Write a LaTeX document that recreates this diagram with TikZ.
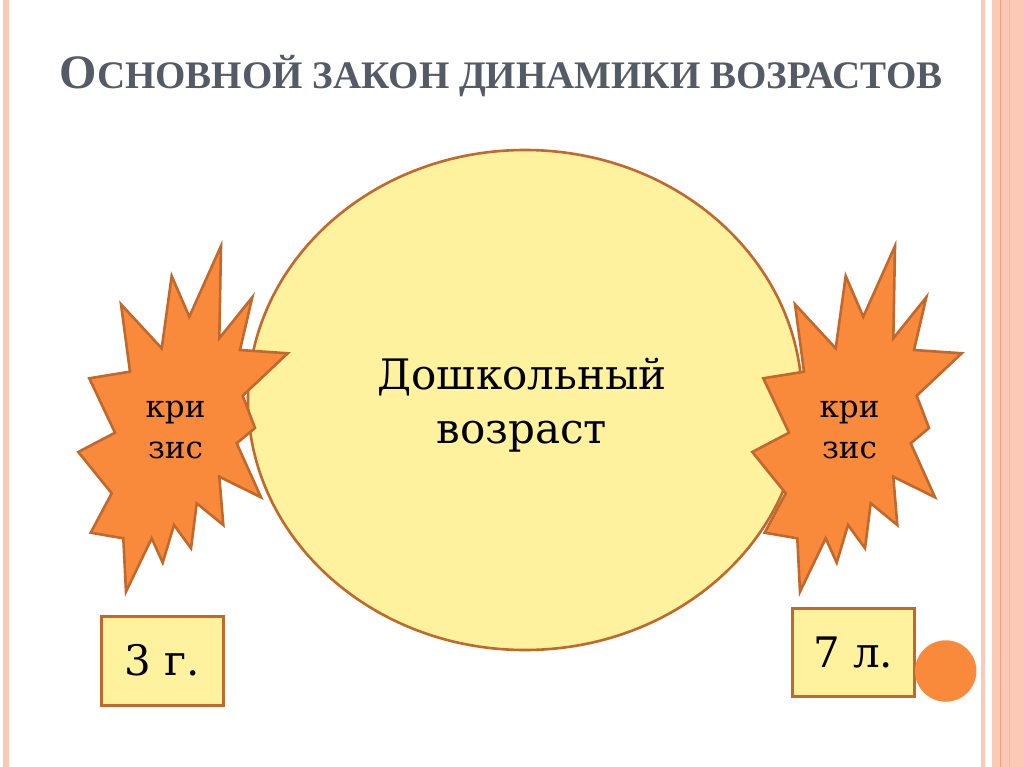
\documentclass[tikz,border=0pt]{standalone}
\usepackage{fontspec}
\setmainfont{DejaVu Serif}
\newfontfamily\titlefont{Liberation Serif}
\definecolor{pinkstrip}{HTML}{FBC9B6}
\definecolor{pinkdark}{HTML}{F2A27E}
\definecolor{titlegray}{HTML}{545B67}
\definecolor{yelfill}{HTML}{FFF29E}
\definecolor{brownline}{HTML}{C1682D}
\definecolor{burstfill}{HTML}{FA8A3B}
\begin{document}
\begin{tikzpicture}[x=1pt,y=-1pt,
  outl/.style={draw=brownline, line width=2.6pt, line join=miter},
  burst/.style={outl, fill=burstfill},
  bursttext/.style={align=center, font=\fontsize{31}{41}\selectfont, inner sep=0pt, anchor=base},
  agebox/.style={outl, fill=yelfill, minimum width=122pt, minimum height=89pt, inner sep=0pt, font=\fontsize{42}{50}\selectfont},
  titlestyle/.style={text=titlegray, font=\titlefont\bfseries\fontsize{39}{44}\selectfont, inner sep=0pt, anchor=base}]
\useasboundingbox (0,0) rectangle (1024,767);
\fill[white] (0,0) rectangle (1024,767);
% side stripes
\fill[pinkstrip] (3.3,0) rectangle (9.3,767);
\fill[pinkstrip] (980.7,0) rectangle (985,767);
\fill[pinkstrip] (991.7,0) rectangle (1024,767);
\draw[pinkdark, line width=1.2pt] (1000.7,0) -- (1000.7,767);
\draw[pinkdark!50!pinkstrip, line width=1pt] (1009,0) -- (1009,767);
% title
\node[titlestyle] (title) at (501,89) {{\fontsize{48}{50}\selectfont О}СНОВНОЙ ЗАКОН ДИНАМИКИ ВОЗРАСТОВ};
% big circle
\draw[outl, fill=yelfill] (525,400) ellipse [x radius=277, y radius=250];
\node[align=center, font=\fontsize{42}{54}\selectfont, inner sep=0pt, anchor=base] (agetext) at (522,443) {Дошкольный\\возраст};
% bursts
\foreach \sx/\nm in {0/left,674/right}{
\begin{scope}[shift={(\sx,0)}]
\draw[burst] (221,246) -- (219.3,338.3) -- (252.3,297.3) -- (240,350) -- (287.7,353.3) -- (242.7,395.7) -- (255,428) -- (236.7,443.3) -- (261,497.3) -- (219.3,476.7) -- (223.3,525) -- (196.7,503.3) -- (191,548.3) -- (174,525) -- (162.7,562.7) -- (151.7,538.3) -- (126,591.7) -- (123.3,538.3) -- (90.7,532.7) -- (111.7,493.3) -- (78.3,452) -- (115,432.7) -- (89.3,378.3) -- (130,371.7) -- (121,304.3) -- (161.7,348.3) -- (171.7,276) -- (189.3,316.7) -- cycle;
\node[bursttext] (crisis\nm) at (175.5,458) {кри\\зис};
\end{scope}}
% age boxes
\node[agebox] (age3) at (162.5,660.7) {3 г.};
\node[agebox, minimum height=88.4pt] (age7) at (853.3,652.5) {7 л.};
\node[circle, fill=burstfill, minimum size=61.4pt, inner sep=0pt] (dot) at (945.7,671) {};
\end{tikzpicture}
\end{document}
